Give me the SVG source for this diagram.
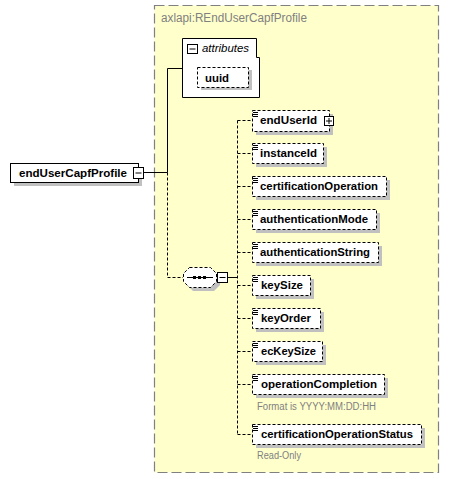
<svg xmlns="http://www.w3.org/2000/svg" width="449" height="479" viewBox="0 0 449 479">
<style>
.el{fill:#fff;stroke:#000;stroke-width:1;stroke-dasharray:3,2}
.sh{fill:#c0c0c0}
.t{font-family:"Liberation Sans",Arial,sans-serif;font-size:11px;font-weight:bold;fill:#000}
.an{font-family:"Liberation Sans",Arial,sans-serif;font-size:10px;fill:#808080}
.ic{stroke:#000;stroke-width:1}
.cn{fill:none;stroke:#000;stroke-width:1}
.dc{fill:none;stroke:#000;stroke-width:1;stroke-dasharray:3,2}
.bx{fill:#fff;stroke:#000;stroke-width:1}
</style>
<g id="type-box">
<rect x="154.5" y="5.5" width="284" height="467" fill="#ffffcc" stroke="#808080" stroke-width="1.2" stroke-dasharray="10,4"/>
<text x="161" y="22" font-family="Liberation Sans,Arial,sans-serif" font-size="12" fill="#808080" textLength="146" lengthAdjust="spacingAndGlyphs">axlapi:REndUserCapfProfile</text>
</g>
<g id="connectors">
<path class="cn" d="M144,172.5 H167.5 V68.5 H182"/>
<path class="dc" d="M167.5,172.5 V277.5 H183"/>
<path class="cn" d="M228,277.5 H237"/>
<path class="dc" d="M237.5,120.5 V434.5"/>
<path class="dc" d="M237.5,120.5 H252 M237.5,153.5 H252 M237.5,186.5 H252 M237.5,219.5 H252 M237.5,252.5 H252 M237.5,285.5 H252 M237.5,318.5 H252 M237.5,351.5 H252 M237.5,384.5 H252 M237.5,434.5 H252"/>
</g>
<g id="root">
<rect class="sh" x="14" y="167" width="128" height="19"/>
<rect x="10.5" y="163.5" width="128" height="19" fill="#fff" stroke="#000"/>
<text class="t" x="19" y="177" textLength="108" lengthAdjust="spacingAndGlyphs">endUserCapfProfile</text>
<rect class="bx" x="133.5" y="167.5" width="10" height="11"/>
<path class="ic" d="M135.5,173 H141.5"/>
</g>
<g id="attributes">
<path d="M182.5,38.5 H256.5 V57.5 H259.5 V97.5 H182.5 Z" fill="#fff" stroke="#000"/>
<rect class="bx" x="187.5" y="44.5" width="10" height="9"/>
<path class="ic" d="M189.5,49 H195.5"/>
<text x="202" y="52" font-family="Liberation Sans,Arial,sans-serif" font-size="11" font-style="italic" fill="#000" textLength="47" lengthAdjust="spacingAndGlyphs">attributes</text>
</g>
<g id="uuid">
<rect class="sh" x="201" y="70" width="51" height="20"/>
<rect class="el" x="197.5" y="67.5" width="51" height="20"/>
<text class="t" x="205" y="82" textLength="24" lengthAdjust="spacingAndGlyphs">uuid</text>
</g>
<g id="sequence">
<path class="sh" d="M193,271 H214 L220,277 V285 L214,291 H193 L187,285 V277 Z"/>
<path d="M189.5,267.5 H210.5 L216.5,273.5 V281.5 L210.5,287.5 H189.5 L183.5,281.5 V273.5 Z" fill="#fff" stroke="#000" stroke-dasharray="3,2"/>
<path class="ic" d="M187,277.5 H213"/>
<rect x="193" y="276" width="3" height="3" fill="#000"/>
<rect x="198" y="276" width="3" height="3" fill="#000"/>
<rect x="203" y="276" width="3" height="3" fill="#000"/>
<rect class="bx" x="217.5" y="272.5" width="10" height="10"/>
<path class="ic" d="M219.5,277.5 H225.5"/>
</g>
<g id="endUserId">
<rect class="sh" x="256" y="114" width="77" height="21"/>
<rect class="el" x="252.5" y="110.5" width="77" height="21"/>
<path class="ic" d="M253,112.5 H258 M253,114.5 H258 M253,116.5 H258"/>
<text class="t" x="260" y="124" textLength="57" lengthAdjust="spacingAndGlyphs">endUserId</text>
<rect class="bx" x="324.5" y="116.5" width="9" height="9"/>
<path class="ic" d="M326,121 H332 M329,118 V124"/>
</g>
<g id="instanceId">
<rect class="sh" x="256" y="147" width="71" height="20"/>
<rect class="el" x="252.5" y="143.5" width="71" height="20"/>
<path class="ic" d="M253,145.5 H258 M253,147.5 H258 M253,149.5 H258"/>
<text class="t" x="260" y="157" textLength="57" lengthAdjust="spacingAndGlyphs">instanceId</text>
</g>
<g id="certificationOperation">
<rect class="sh" x="256" y="180" width="134" height="20"/>
<rect class="el" x="252.5" y="176.5" width="134" height="20"/>
<path class="ic" d="M253,178.5 H258 M253,180.5 H258 M253,182.5 H258"/>
<text class="t" x="260" y="190" textLength="118" lengthAdjust="spacingAndGlyphs">certificationOperation</text>
</g>
<g id="authenticationMode">
<rect class="sh" x="256" y="213" width="124" height="20"/>
<rect class="el" x="252.5" y="209.5" width="124" height="20"/>
<path class="ic" d="M253,211.5 H258 M253,213.5 H258 M253,215.5 H258"/>
<text class="t" x="260" y="223" textLength="108" lengthAdjust="spacingAndGlyphs">authenticationMode</text>
</g>
<g id="authenticationString">
<rect class="sh" x="256" y="246" width="126" height="20"/>
<rect class="el" x="252.5" y="242.5" width="126" height="20"/>
<path class="ic" d="M253,244.5 H258 M253,246.5 H258 M253,248.5 H258"/>
<text class="t" x="260" y="256" textLength="110" lengthAdjust="spacingAndGlyphs">authenticationString</text>
</g>
<g id="keySize">
<rect class="sh" x="256" y="279" width="58" height="20"/>
<rect class="el" x="252.5" y="275.5" width="58" height="20"/>
<path class="ic" d="M253,277.5 H258 M253,279.5 H258 M253,281.5 H258"/>
<text class="t" x="261" y="289" textLength="42" lengthAdjust="spacingAndGlyphs">keySize</text>
</g>
<g id="keyOrder">
<rect class="sh" x="256" y="312" width="68" height="20"/>
<rect class="el" x="252.5" y="308.5" width="68" height="20"/>
<path class="ic" d="M253,310.5 H258 M253,312.5 H258 M253,314.5 H258"/>
<text class="t" x="261" y="322" textLength="50" lengthAdjust="spacingAndGlyphs">keyOrder</text>
</g>
<g id="ecKeySize">
<rect class="sh" x="256" y="345" width="70" height="20"/>
<rect class="el" x="252.5" y="341.5" width="70" height="20"/>
<path class="ic" d="M253,343.5 H258 M253,345.5 H258 M253,347.5 H258"/>
<text class="t" x="261" y="355" textLength="55" lengthAdjust="spacingAndGlyphs">ecKeySize</text>
</g>
<g id="operationCompletion">
<rect class="sh" x="256" y="378" width="132" height="20"/>
<rect class="el" x="252.5" y="374.5" width="132" height="20"/>
<path class="ic" d="M253,376.5 H258 M253,378.5 H258 M253,380.5 H258"/>
<text class="t" x="261" y="388" textLength="116" lengthAdjust="spacingAndGlyphs">operationCompletion</text>
<text class="an" x="257" y="410" textLength="119" lengthAdjust="spacingAndGlyphs">Format is YYYY:MM:DD:HH</text>
</g>
<g id="certificationOperationStatus">
<rect class="sh" x="256" y="428" width="169" height="20"/>
<rect class="el" x="252.5" y="424.5" width="169" height="20"/>
<path class="ic" d="M253,426.5 H258 M253,428.5 H258 M253,430.5 H258"/>
<text class="t" x="261" y="438" textLength="152" lengthAdjust="spacingAndGlyphs">certificationOperationStatus</text>
<text class="an" x="257" y="459" textLength="44" lengthAdjust="spacingAndGlyphs">Read-Only</text>
</g>
</svg>
